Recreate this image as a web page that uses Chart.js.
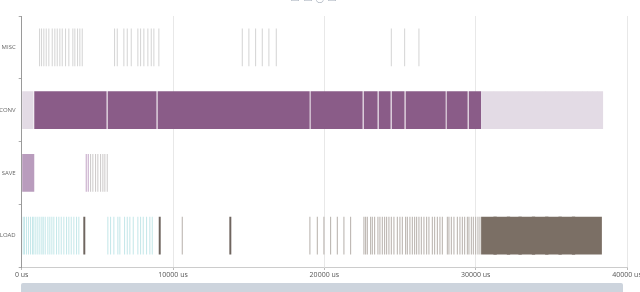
<!DOCTYPE html>
<html>
<head>
  <title>Task Timeline</title>
  <script src="https://cdn.jsdelivr.net/npm/chart.js"></script>
  <style>
    body { margin: 0; overflow: hidden; background: #fff; }
    #wrap { position: relative; width: 640px; height: 281px; }
    #scroll { position: absolute; left: 21px; top: 283px; width: 602px; height: 12px; background: #cdd4dd; border-radius: 2px; }
  </style>
</head>
<body>
  <div id="wrap"><canvas id="timeline"></canvas></div>
  <div id="scroll"></div>
  <script>
    // rows of the timeline
    const categories = ['MISC', 'CONV', 'SAVE', 'LOAD'];
    const xTicks = [0, 10000, 20000, 30000, 40000];

    // event start times (us) for short events
    const miscStarts = [1144, 1276, 1428, 1586, 1758, 1983, 2155, 2314, 2485, 2644, 2862, 3080, 3345, 3477, 3655, 3807, 3966,
      6101, 6280, 6716, 6941, 7205, 7641, 7820, 8038, 8302, 8527, 8699, 9029,
      14542, 14978, 15421, 15864, 16300, 16789,
      24391, 25270, 26215];

    // conversion spans [start, end] in us
    const convIdle = [[0, 780], [30360, 38420]];
    const convBusy = [[830, 5610], [5680, 8910], [8980, 19030], [19090, 22530], [22600, 23520], [23590, 24380],
      [24450, 25300], [25370, 28020], [28080, 29470], [29540, 30360]];
    const convStreaks = [1210, 1653, 2089, 2532, 2975, 3305, 3966, 4402, 4958, 13220, 13656, 14099, 14542, 14978,
      15421, 15864, 16743, 17735, 20730, 21060, 21390, 21720, 22050];
    const convIdleMarks = [31173, 32059, 32826, 33711, 34590, 35470, 36355, 37017, 37348, 37678, 38009];

    const saveBlock = [[0, 830]];
    const saveMarkA = [4230, 4363];
    const saveMarkB = [4515, 4667, 4845, 4997, 5176, 5328, 5460, 5619];

    const loadLight = [66, 152, 284, 416, 549, 681, 767, 899, 1031, 1163, 1296, 1388, 1520, 1692, 1824, 1957, 2089,
      2267, 2419, 2578, 2750, 2928, 3080, 3239, 3411, 3589, 3741,
      5658, 5837, 6055, 6319, 6451, 6762, 6941, 7112, 7337, 7641, 7820, 7998, 8216, 8434, 8593];
    const loadGrey = [10576, 19010, 19500, 19936, 20379, 20822, 21258, 21701,
      22580, 22692, 22805, 23023, 23135, 23287, 23505, 23637, 23796, 23948, 24080, 24232, 24391, 24563, 24788,
      24959, 25118, 25336, 25449, 25620, 25779, 25931, 26063, 26215, 26374, 26546, 26724, 26876, 27101, 27253,
      27432, 27603, 27762, 28093, 28198, 28357, 28529, 28754, 28925, 29084, 29236, 29415, 29520, 29679, 29811,
      29963, 30115, 30247];
    const loadDark = [4072, 9056, 13722];
    const loadBlock = [[30360, 38340]];
    const loadStripes = [31173, 32059, 32826, 33711, 34590, 35470, 36355];

    const thin = 70;   // us, about one pixel
    const thick = 130;

    const lines = (starts, dur, cat) => starts.map(s => ({ x: [s, s + dur], y: cat }));
    const spans = (pairs, cat) => pairs.map(p => ({ x: p, y: cat }));

    const set = (data, color) => ({ data: data, backgroundColor: color, borderWidth: 0 });

    const datasets = [
      set(lines(miscStarts, thin, 'MISC'), '#d6d6d6'),
      set(spans(convIdle, 'CONV'), '#e3dbe5'),
      set(lines(convIdleMarks, thin, 'CONV'), 'rgba(138,92,136,0.08)'),
      set(spans(convBusy, 'CONV'), '#8a5c88'),
      set(lines(convStreaks, thin, 'CONV'), 'rgba(255,255,255,0.14)'),
      set(spans(saveBlock, 'SAVE'), '#b99cbd'),
      set(lines(saveMarkA, thin, 'SAVE'), '#c6a9c9'),
      set(lines(saveMarkB, thin, 'SAVE'), '#cfcccc'),
      set(lines(loadLight, thin, 'LOAD'), '#c6e8ea'),
      set(lines(loadGrey, thin, 'LOAD'), '#bab4af'),
      set(lines(loadDark, thick, 'LOAD'), '#6f655f'),
      set(spans(loadBlock, 'LOAD'), '#7b6f65'),
      set(lines(loadStripes, 220, 'LOAD'), '#64574d')
    ];

    const ctx = document.getElementById('timeline').getContext('2d');
    new Chart(ctx, {
      type: 'bar',
      data: { labels: categories, datasets: datasets },
      options: {
        indexAxis: 'y',
        responsive: true,
        maintainAspectRatio: false,
        animation: false,
        layout: { padding: { left: 0, right: 13, top: 0, bottom: 0 } },
        datasets: { bar: { grouped: false, barPercentage: 0.6, categoryPercentage: 1.0 } },
        plugins: {
          legend: { display: false },
          tooltip: { enabled: false },
          title: {
            display: true,
            text: '▭ ▭ ◡ ▭',
            color: '#a6afbb',
            font: { size: 10, family: 'DejaVu Sans' },
            padding: { top: -7, bottom: 11 }
          }
        },
        scales: {
          x: {
            type: 'linear',
            min: 0,
            max: 40000,
            afterBuildTicks: axis => { axis.ticks = xTicks.map(v => ({ value: v })); },
            afterFit: axis => { axis.height = 14; axis.paddingRight = 0; },
            ticks: {
              color: '#555',
              font: { size: 7, family: 'Open Sans' },
              padding: 1,
              maxRotation: 0,
              callback: v => v + ' us'
            },
            grid: { color: '#e8e8e8', tickLength: 3, tickColor: '#bbb' },
            border: { color: '#cccccc' }
          },
          y: {
            type: 'category',
            afterFit: axis => { axis.width = 21.7; },
            ticks: { color: '#666', font: { size: 6, family: 'Open Sans' }, padding: 3 },
            grid: { drawOnChartArea: false, tickLength: 3, color: '#aaa' },
            border: { color: '#9a9a9a' }
          }
        }
      }
    });
  </script>
</body>
</html>
